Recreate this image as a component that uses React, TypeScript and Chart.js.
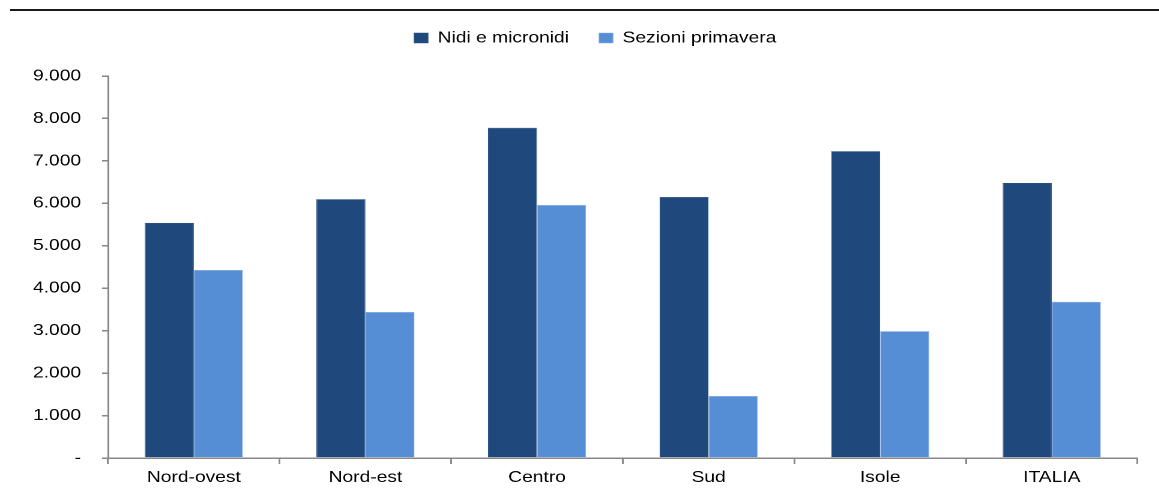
import React, { useEffect, useRef } from 'react';
import { Chart, registerables } from 'chart.js';

Chart.register(...registerables);

const categories = ['Nord-ovest', 'Nord-est', 'Centro', 'Sud', 'Isole', 'ITALIA'];
const nidiValues = [5540, 6100, 7780, 6150, 7230, 6480];
const sezioniValues = [4430, 3440, 5960, 1460, 2990, 3680];
const yTickLabels = ['-', '1.000', '2.000', '3.000', '4.000', '5.000', '6.000', '7.000', '8.000', '9.000'];
const seriesNames = ['Nidi e micronidi', 'Sezioni primavera'];

const SX = 1.2;
const W = 1159 / SX;
const H = 493;
const LEGEND_DX = 22;
const LEGEND_DY = 20;
const FONT = '"Liberation Sans", Arial, sans-serif';

const legendShift = {
  id: 'legendShift',
  afterLayout(chart: any) {
    const l = chart.legend;
    if (!l) return;
    l.left += LEGEND_DX;
    l.right += LEGEND_DX;
    l.top -= LEGEND_DY;
    l.bottom -= LEGEND_DY;
  },
};

export default function App() {
  const ref = useRef<HTMLCanvasElement | null>(null);

  useEffect(() => {
    document.body.style.overflow = 'hidden';
    const chart = new Chart(ref.current as HTMLCanvasElement, {
      type: 'bar',
      data: {
        labels: categories,
        datasets: [
          {
            label: seriesNames[0],
            data: nidiValues,
            backgroundColor: '#1F497D',
            borderColor: '#2f5686',
            borderWidth: 0.6,
            categoryPercentage: 0.572,
            barPercentage: 1,
          },
          {
            label: seriesNames[1],
            data: sezioniValues,
            backgroundColor: '#558ED5',
            borderColor: '#8cb2e4',
            borderWidth: 0.6,
            categoryPercentage: 0.572,
            barPercentage: 1,
          },
        ],
      },
      plugins: [legendShift],
      options: {
        animation: false,
        responsive: true,
        maintainAspectRatio: false,
        devicePixelRatio: 2,
        layout: { padding: { top: 25, left: 0, right: W - 1137 / SX, bottom: 0 } },
        plugins: {
          legend: {
            display: true,
            position: 'top',
            labels: {
              boxWidth: 14 / SX,
              boxHeight: 10,
              padding: 25,
              color: '#000',
              font: { family: FONT, size: 16 },
            },
          },
          tooltip: { enabled: false },
        },
        scales: {
          x: {
            afterFit: (s: any) => {
              s.height = 35;
            },
            grid: {
              display: true,
              drawOnChartArea: false,
              drawTicks: true,
              tickLength: 6,
              color: '#888',
              lineWidth: 1.5,
              offset: true,
            },
            border: { display: true, color: '#888', width: 1.5 },
            ticks: { color: '#000', padding: 4, font: { family: FONT, size: 16 } },
          },
          y: {
            min: 0,
            max: 9000,
            afterFit: (s: any) => {
              s.width = 108 / SX;
            },
            grid: {
              display: true,
              drawOnChartArea: false,
              drawTicks: true,
              tickLength: 6 / SX,
              color: '#888',
              lineWidth: 1.5,
            },
            border: { display: true, color: '#888', width: 1.5 },
            ticks: {
              stepSize: 1000,
              color: '#000',
              padding: (108 - 6 - 81) / SX,
              font: { family: FONT, size: 16 },
              callback: (v: any) => yTickLabels[Math.round(Number(v) / 1000)],
            },
          },
        },
      },
    } as any);
    return () => chart.destroy();
  }, []);

  return (
    <>
      <div
        style={{
          position: 'absolute',
          left: 10,
          top: 9,
          width: 1149,
          height: 2,
          background: '#1a1a1a',
        }}
      />
      <div
        style={{
          position: 'absolute',
          left: 0,
          top: 0,
          width: W,
          height: H,
          transform: `scaleX(${SX})`,
          transformOrigin: '0 0',
        }}
      >
        <canvas ref={ref} />
      </div>
    </>
  );
}
